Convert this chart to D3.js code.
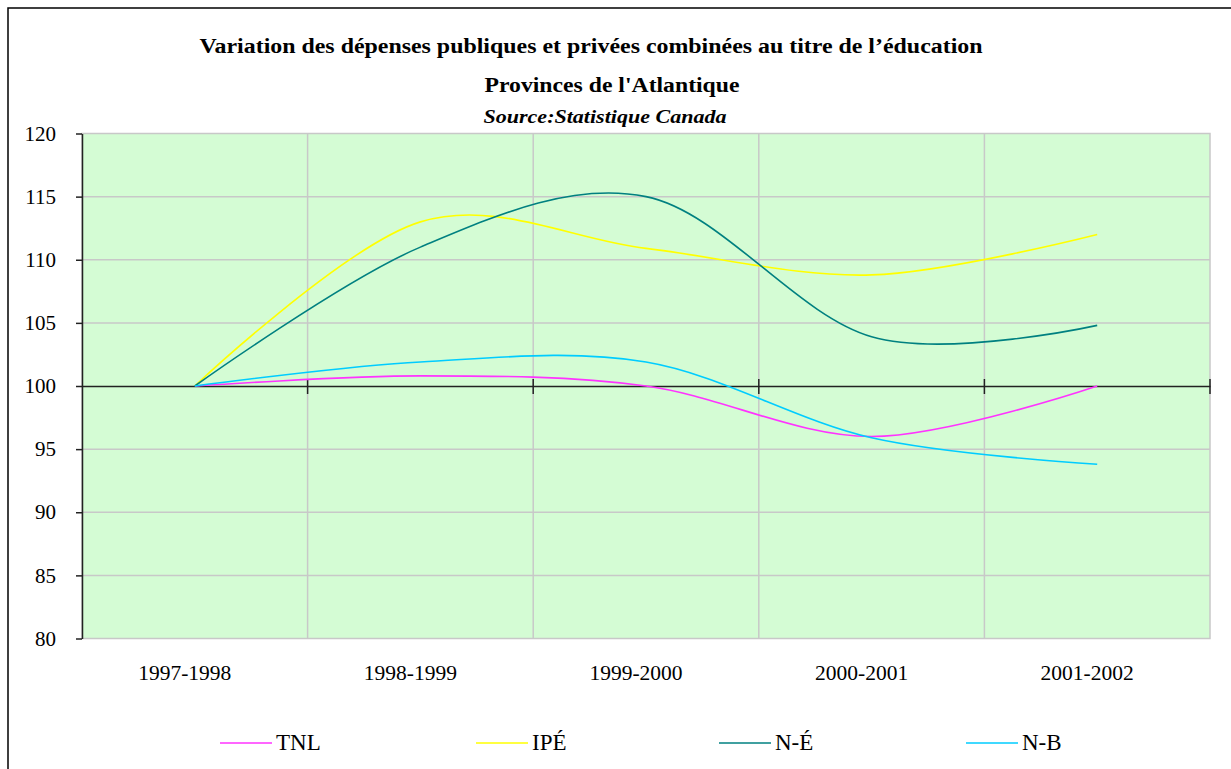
<!DOCTYPE html>
<html>
<head>
<meta charset="utf-8">
<script src="https://cdn.jsdelivr.net/npm/d3@7"></script>
<style>
  body { margin: 0; background: #fff; }
</style>
</head>
<body>
<div id="chart"></div>
<script>
// Chart data
const categories = ['1997-1998', '1998-1999', '1999-2000', '2000-2001', '2001-2002'];
const seriesNames = ['TNL', 'IPÉ', 'N-É', 'N-B'];
const tnlValues = [100, 100.8, 100.0, 96.0, 100.0];
const ipeValues = [100, 113.0, 110.9, 108.8, 112.0];
const neValues = [100, 111.0, 115.0, 103.9, 104.8];
const nbValues = [100, 101.9, 101.9, 95.9, 93.8];
const yTicks = [80, 85, 90, 95, 100, 105, 110, 115, 120];
const titleLines = [
    'Variation des dépenses publiques et privées combinées au titre de l’éducation',
    "Provinces de l'Atlantique",
    'Source:Statistique Canada'
];

const seriesColors = ['#ff33ff', '#ffff00', '#008080', '#00ccff'];
const seriesData = [tnlValues, ipeValues, neValues, nbValues];

const FONT = '"Liberation Serif", "DejaVu Serif", serif';
const width = 1231;
const height = 769;
const plot = { left: 82, right: 1210, top: 133.5, bottom: 638.5 };

const svg = d3.select('#chart').append('svg')
    .attr('width', width)
    .attr('height', height)
    .attr('font-family', FONT);

// Outer chart frame (cut off at right and bottom like the original)
svg.append('rect')
    .attr('x', 8)
    .attr('y', 8)
    .attr('width', 1300)
    .attr('height', 900)
    .attr('fill', '#fff')
    .attr('stroke', '#000')
    .attr('stroke-width', 1.5);

// Scales
const x = d3.scaleBand()
    .domain(categories)
    .range([plot.left, plot.right])
    .padding(0);

const y = d3.scaleLinear()
    .domain([80, 120])
    .range([plot.bottom, plot.top]);

const cx = d => x(d) + x.bandwidth() / 2;

// Plot background
svg.append('rect')
    .attr('x', plot.left)
    .attr('y', plot.top)
    .attr('width', plot.right - plot.left)
    .attr('height', plot.bottom - plot.top)
    .attr('fill', '#d4fcd4')
    .attr('stroke', '#c8c8c8')
    .attr('stroke-width', 1.5);

// Horizontal gridlines
svg.append('g')
    .selectAll('line')
    .data(yTicks.filter(t => t !== 80 && t !== 120 && t !== 100))
    .enter()
    .append('line')
    .attr('x1', plot.left)
    .attr('x2', plot.right)
    .attr('y1', d => y(d))
    .attr('y2', d => y(d))
    .attr('stroke', '#c8c8c8')
    .attr('stroke-width', 1.5);

// Vertical gridlines at category boundaries
svg.append('g')
    .selectAll('line')
    .data(categories.slice(1))
    .enter()
    .append('line')
    .attr('x1', d => x(d))
    .attr('x2', d => x(d))
    .attr('y1', plot.top)
    .attr('y2', plot.bottom)
    .attr('stroke', '#c8c8c8')
    .attr('stroke-width', 1.5);

// Category axis crossing at 100
const xAxis = d3.axisBottom(x)
    .tickSize(0)
    .tickFormat('');
const xAxisG = svg.append('g')
    .attr('transform', `translate(0,${y(100)})`)
    .call(xAxis);
xAxisG.select('.domain')
    .attr('stroke', '#222')
    .attr('stroke-width', 1.5);

// Tick marks across the axis at band edges
xAxisG.selectAll('.edge-tick')
    .data(categories.slice(1).map(c => x(c)).concat([plot.right]))
    .enter()
    .append('line')
    .attr('class', 'edge-tick')
    .attr('x1', d => d)
    .attr('x2', d => d)
    .attr('y1', -7)
    .attr('y2', 8)
    .attr('stroke', '#222')
    .attr('stroke-width', 1.5);

// Category labels below the plot
svg.append('g')
    .selectAll('text')
    .data(categories)
    .enter()
    .append('text')
    .attr('x', d => cx(d) - 10)
    .attr('y', 680)
    .attr('text-anchor', 'middle')
    .attr('font-family', FONT)
    .attr('font-size', 21.5)
    .attr('fill', '#000')
    .text(d => d);

// Value axis
const yAxis = d3.axisLeft(y)
    .tickValues(yTicks)
    .tickSize(6)
    .tickPadding(20)
    .tickSizeOuter(0);
const yAxisG = svg.append('g')
    .attr('transform', `translate(${plot.left},0)`)
    .call(yAxis)
    .attr('font-family', FONT)
    .attr('font-size', 21);
yAxisG.select('.domain')
    .attr('stroke', '#222')
    .attr('stroke-width', 1.5);
yAxisG.selectAll('.tick line')
    .attr('stroke', '#222')
    .attr('stroke-width', 1.5);
yAxisG.selectAll('.tick text')
    .attr('fill', '#000')
    .attr('dy', '0.32em');

// Series lines (smoothed)
const line = d3.line()
    .x((d, i) => cx(categories[i]))
    .y(d => y(d))
    .curve(d3.curveCatmullRom.alpha(0));

svg.append('g')
    .selectAll('path')
    .data(seriesData)
    .enter()
    .append('path')
    .attr('d', d => line(d))
    .attr('fill', 'none')
    .attr('stroke', (d, i) => seriesColors[i])
    .attr('stroke-width', 1.6);

// Titles
const titleSpecs = [
    { cx: 591, y: 53, size: 20, weight: 'bold', style: 'normal', len: 783 },
    { cx: 612, y: 92, size: 20, weight: 'bold', style: 'normal', len: 255 },
    { cx: 605, y: 123, size: 19, weight: 'bold', style: 'italic', len: 243 }
];
svg.append('g')
    .selectAll('text')
    .data(titleLines)
    .enter()
    .append('text')
    .attr('x', (d, i) => titleSpecs[i].cx)
    .attr('y', (d, i) => titleSpecs[i].y)
    .attr('text-anchor', 'middle')
    .attr('textLength', (d, i) => titleSpecs[i].len)
    .attr('lengthAdjust', 'spacingAndGlyphs')
    .attr('font-family', FONT)
    .attr('font-size', (d, i) => titleSpecs[i].size)
    .attr('font-weight', (d, i) => titleSpecs[i].weight)
    .attr('font-style', (d, i) => titleSpecs[i].style)
    .attr('fill', '#000')
    .text(d => d);

// Legend
const legendX = [220, 476, 719, 966];
const legend = svg.append('g')
    .selectAll('g')
    .data(seriesNames)
    .enter()
    .append('g')
    .attr('transform', (d, i) => `translate(${legendX[i]},743)`);

legend.append('line')
    .attr('x1', 0)
    .attr('x2', 52)
    .attr('y1', 0)
    .attr('y2', 0)
    .attr('stroke', (d, i) => seriesColors[i])
    .attr('stroke-width', 1.6);

legend.append('text')
    .attr('x', 56)
    .attr('y', 7)
    .attr('font-family', FONT)
    .attr('font-size', 23)
    .attr('fill', '#000')
    .text(d => d);
</script>
</body>
</html>
